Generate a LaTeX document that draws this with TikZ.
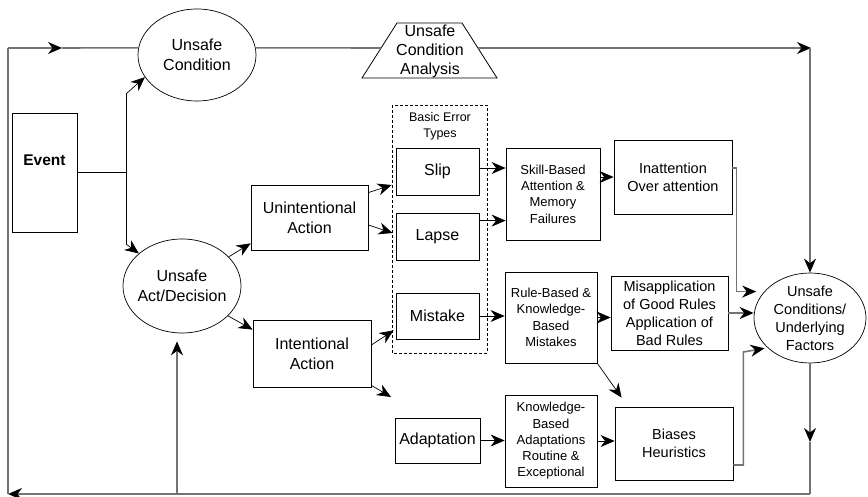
\documentclass[tikz,border=0pt]{standalone}
\usepackage{fontspec}
\setmainfont{Liberation Sans}
\usetikzlibrary{arrows.meta,shapes.geometric,calc}
\begin{document}
\begin{tikzpicture}[x=1pt,y=-1pt,
  box/.style={draw, line width=0.8pt, inner sep=0pt, align=center},
  oval/.style={draw, ellipse, line width=0.7pt, inner sep=-14pt, align=center},
  fbig/.style={font=\fontsize{16}{20}\selectfont},
  fmid/.style={font=\fontsize{14.5}{18}\selectfont},
  fsmall/.style={font=\fontsize{13}{16.3}\selectfont},
  tip/.style={-{Stealth[length=14pt,width=12pt,inset=4.5pt,color=black]}},
  conn/.style={tip, line width=0.7pt, black},
  fb/.style={line width=1.6pt, black!55},
]
\useasboundingbox (0,0) rectangle (868,497);

% nodes
\node[oval,fbig,minimum width=118pt,minimum height=92pt] (uc) at (197,55) {Unsafe\\Condition};
\draw[line width=0.8pt] (362,78) -- (497,78) -- (462,23) -- (397,23) -- cycle;
\node[align=center,inner sep=0pt,font=\fontsize{16}{19}\selectfont] (uca) at (430,51) {Unsafe\\Condition\\Analysis};
\node[box,minimum width=65pt,minimum height=119pt] (event) at (44.5,172.5) {\raisebox{7pt}[0pt][0pt]{\fontsize{15.5}{18}\selectfont\bfseries Event}};
\node[oval,fbig,minimum width=118pt,minimum height=94pt] (ua) at (182,286) {Unsafe\\Act/Decision};
\node[box,fbig,minimum width=117pt,minimum height=65pt] (unint) at (309.5,217.5) {Unintentional\\Action};
\node[box,fbig,minimum width=118pt,minimum height=67pt] (int) at (312,353.5) {Intentional\\Action};
\draw[dashed,line width=0.6pt,dash pattern=on 3pt off 2pt] (392,105) rectangle (487,353);
\node[align=center,inner sep=0pt,font=\fontsize{12.5}{16.5}\selectfont] (bet) at (440,126.5) {Basic Error\\Types};
\node[box,fbig,minimum width=83pt,minimum height=47pt] (slip) at (437.5,171.5) {Slip};
\node[box,fbig,minimum width=83pt,minimum height=47pt] (lapse) at (437.5,236.5) {Lapse};
\node[box,fbig,minimum width=83pt,minimum height=46pt] (mistake) at (437.5,316) {Mistake};
\node[box,fbig,minimum width=85pt,minimum height=45pt] (adapt) at (437.5,440.5) {Adaptation};
\node[box,fsmall,minimum width=94pt,minimum height=92pt] (skill) at (553,194) {Skill-Based\\Attention \&\\Memory\\Failures};
\node[box,fmid,minimum width=118pt,minimum height=74pt] (inatt) at (673,177) {Inattention\\Over attention};
\node[box,fsmall,minimum width=92pt,minimum height=91pt] (rule) at (551,317.5) {Rule-Based \&\\Knowledge-\\Based\\Mistakes};
\node[box,fmid,minimum width=117pt,minimum height=74pt] (misapp) at (669.5,313) {Misapplication\\of Good Rules\\Application of\\Bad Rules};
\node[box,fsmall,minimum width=92pt,minimum height=92pt] (know) at (551,441) {Knowledge-\\Based\\Adaptations\\Routine \&\\Exceptional};
\node[box,fmid,minimum width=118pt,minimum height=73pt] (biases) at (674,443.5) {Biases\\Heuristics};
\node[oval,fmid,minimum width=112pt,minimum height=90pt] (ucu) at (810,318) {Unsafe\\Conditions/\\Underlying\\Factors};

% coordinates
\coordinate (TL) at (8,48);
\coordinate (TLm) at (62,48);
\coordinate (TR) at (811,48);
\coordinate (TRc) at (810,48);
\coordinate (BR) at (810,494);
\coordinate (BL) at (8,494);
\coordinate (BM) at (177,494);
\coordinate (Rm) at (810,442);
\coordinate (trapL) at (381,48);
\coordinate (trapR) at (478,48);
\coordinate (j1) at (126,172.5);
\coordinate (j2) at (126,94);
\coordinate (j3) at (126,244);
\coordinate (free) at (391,397);

% feedback loop
\draw[fb,tip] (TL) -- (TLm);
\draw[fb] (TLm) -- (uc.173);
\draw[fb] (uc.7) -- (trapL);
\draw[fb,tip] (trapR) -- (TR);
\draw[fb,tip] (TRc) -- (ucu.north);
\draw[fb,tip] (ucu.south) -- (Rm);
\draw[fb] (Rm) -- (BR);
\draw[fb,tip] (BR) -- (BL);
\draw[fb] (BL) -- (TL);
\draw[fb,tip,shorten >=8pt] (BM) -- (BM |- ua.south);

% event branching
\draw[line width=0.7pt] (event.east) -- (j1);
\draw[line width=0.7pt] (j2) -- (j3);
\draw[conn] (j2) -- (uc.203);
\draw[conn] (j3) -- (ua.143);

% acts
\draw[conn] (ua.32) -- ([yshift=7pt]unint.south west);
\draw[conn] (ua.327) -- ([yshift=-10pt]int.north west);
\draw[conn] ([yshift=-8pt]unint.north east) -- ([xshift=-4pt,yshift=-13.5pt]slip.west);
\draw[conn] ([yshift=-7.5pt]unint.east) -- ([xshift=-3pt,yshift=3.5pt]lapse.west);
\draw[conn] ([yshift=8.5pt]int.east) -- ([xshift=-2pt,yshift=9pt]mistake.south west);
\draw[conn] ([yshift=2pt]int.south east) -- (free);

% error types
\coordinate (sp) at ([yshift=3.5pt]slip.east);
\coordinate (lp) at ([yshift=-8pt]lapse.north east);
\draw[conn] (sp) -- (sp -| skill.west);
\draw[conn] (lp) -- (lp -| skill.west);
\draw[conn] (skill.east |- inatt.west) -- (inatt.west);
\draw[conn] (mistake.east) -- (mistake.east -| rule.west);
\draw[conn] (rule.east) -- (rule.east -| misapp.west);
\draw[conn] (rule.south east) -- ([xshift=7pt,yshift=9pt]biases.north west);
\draw[conn] (adapt.east) -- (adapt.east -| know.west);
\draw[conn] (know.east) -- (know.east -| biases.west);

% to underlying factors
\coordinate (ia) at ([yshift=9pt]inatt.east);
\draw[fb,tip] (ia) -- ++(4,0) |- ([xshift=-8pt]ucu.150);
\draw[fb,tip] (misapp.east) -- (misapp.east -| ucu.west);
\coordinate (bi) at ([yshift=-21.5pt]biases.east);
\draw[fb,tip,shorten >=3pt] (bi) -- ++(10,0) -- ++(0,-113) -- (ucu.215);
\end{tikzpicture}
\end{document}
